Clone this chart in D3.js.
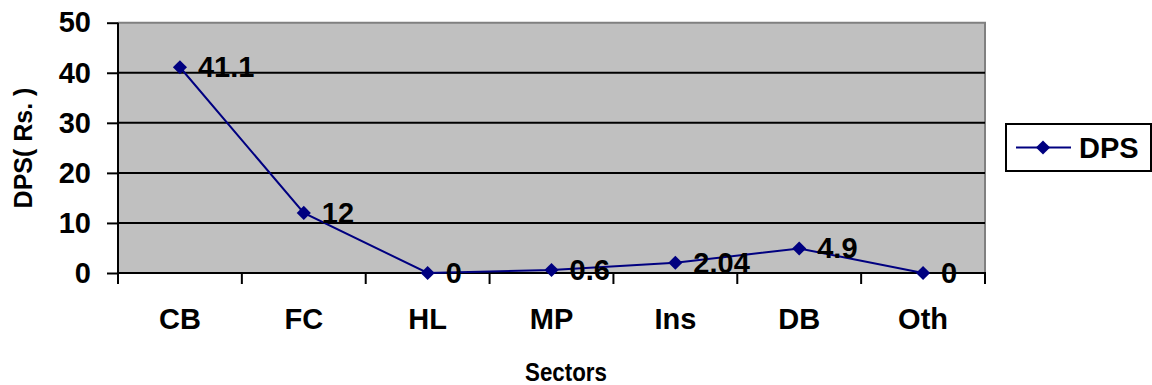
<!DOCTYPE html>
<html>
<head>
<meta charset="utf-8">
<script src="https://cdn.jsdelivr.net/npm/d3@7"></script>
<style>
  html, body { margin: 0; padding: 0; background: #fff; }
  svg { display: block; font-family: "Liberation Sans", Arial, sans-serif; font-weight: bold; }
</style>
</head>
<body>
<svg id="chart" width="1152" height="385"></svg>
<script>
// Dividend per share by sector
const sectors = ["CB", "FC", "HL", "MP", "Ins", "DB", "Oth"];
const dps = [41.1, 12, 0, 0.6, 2.04, 4.9, 0];
const dpsLabels = ["41.1", "12", "0", "0.6", "2.04", "4.9", "0"];
const yTicks = [0, 10, 20, 30, 40, 50];
const seriesName = "DPS";
const xTitle = "Sectors";
const yTitle = "DPS( Rs. )";

const svg = d3.select("#chart");
const plot = { left: 118, right: 985, top: 22.7, bottom: 273 };
const navy = "#000080";

const x = d3.scaleBand().domain(sectors).range([plot.left, plot.right]).padding(0);
const y = d3.scaleLinear().domain([0, 50]).range([plot.bottom, plot.top]);

// plot background
svg.append("rect")
  .attr("x", plot.left).attr("y", plot.top)
  .attr("width", plot.right - plot.left).attr("height", plot.bottom - plot.top)
  .attr("fill", "#c0c0c0");

// frame: grey top and right edges
svg.append("path")
  .attr("d", `M${plot.left},${plot.top}H${plot.right}V${plot.bottom}`)
  .attr("fill", "none").attr("stroke", "#808080").attr("stroke-width", 2);

// horizontal gridlines
svg.append("g").selectAll("line")
  .data(yTicks.filter(t => t > 0 && t < 50))
  .join("line")
  .attr("x1", plot.left).attr("x2", plot.right)
  .attr("y1", d => y(d)).attr("y2", d => y(d))
  .attr("stroke", "#000").attr("stroke-width", 2);

// y axis
const yAxis = svg.append("g")
  .attr("transform", `translate(${plot.left},0)`)
  .call(d3.axisLeft(y).tickValues(yTicks).tickSize(11).tickPadding(16));
yAxis.select(".domain").attr("stroke", "#000").attr("stroke-width", 2)
  .attr("d", `M0,${plot.top}V${plot.bottom}`);
yAxis.selectAll(".tick line").attr("stroke", "#000").attr("stroke-width", 2);
yAxis.selectAll(".tick text")
  .attr("fill", "#000")
  .style("font-size", "29px").style("font-weight", "bold")
  .style("font-family", "'Liberation Sans', Arial, sans-serif");

// x axis line and ticks at category boundaries
const xAxisG = svg.append("g");
xAxisG.append("line")
  .attr("x1", plot.left).attr("x2", plot.right + 1)
  .attr("y1", plot.bottom).attr("y2", plot.bottom)
  .attr("stroke", "#000").attr("stroke-width", 2);
const bounds = sectors.map(s => x(s)).concat([x(sectors[sectors.length - 1]) + x.bandwidth()]);
xAxisG.selectAll("line.tk")
  .data(bounds)
  .join("line").attr("class", "tk")
  .attr("x1", d => d).attr("x2", d => d)
  .attr("y1", plot.bottom).attr("y2", plot.bottom + 11)
  .attr("stroke", "#000").attr("stroke-width", 2);
xAxisG.selectAll("text")
  .data(sectors)
  .join("text")
  .attr("x", d => x(d) + x.bandwidth() / 2)
  .attr("y", 329)
  .attr("text-anchor", "middle")
  .style("font-size", "29px")
  .text(d => d);

// axis titles
svg.append("text")
  .attr("transform", "translate(566,381) scale(0.86,1)")
  .attr("text-anchor", "middle")
  .style("font-size", "26px")
  .text(xTitle);
svg.append("text")
  .attr("transform", "translate(32,148) rotate(-90)")
  .attr("text-anchor", "middle")
  .style("font-size", "25px")
  .text(yTitle);

// series line
const cx = d => x(d) + x.bandwidth() / 2;
const line = d3.line().x((d, i) => cx(sectors[i])).y(d => y(d));
svg.append("path")
  .datum(dps)
  .attr("d", line)
  .attr("fill", "none").attr("stroke", navy).attr("stroke-width", 2);

// diamond markers
const diamond = d3.symbol().type(d3.symbolSquare).size(100);
svg.append("g").selectAll("path")
  .data(dps)
  .join("path")
  .attr("d", diamond)
  .attr("transform", (d, i) => `translate(${cx(sectors[i])},${y(d)}) rotate(45)`)
  .attr("fill", navy);

// value labels
svg.append("g").selectAll("text")
  .data(dps)
  .join("text")
  .attr("x", (d, i) => cx(sectors[i]) + 18)
  .attr("y", d => y(d) + 10)
  .style("font-size", "29px")
  .text((d, i) => dpsLabels[i]);

// legend
const lg = svg.append("g");
lg.append("rect")
  .attr("x", 1006).attr("y", 124).attr("width", 145).attr("height", 47)
  .attr("fill", "#fff").attr("stroke", "#000").attr("stroke-width", 2);
lg.append("line")
  .attr("x1", 1016).attr("x2", 1071).attr("y1", 147.5).attr("y2", 147.5)
  .attr("stroke", navy).attr("stroke-width", 2);
lg.append("path")
  .attr("d", diamond)
  .attr("transform", "translate(1043,147.5) rotate(45)")
  .attr("fill", navy);
lg.append("text")
  .attr("x", 1079).attr("y", 158)
  .style("font-size", "29px")
  .text(seriesName);
</script>
</body>
</html>
